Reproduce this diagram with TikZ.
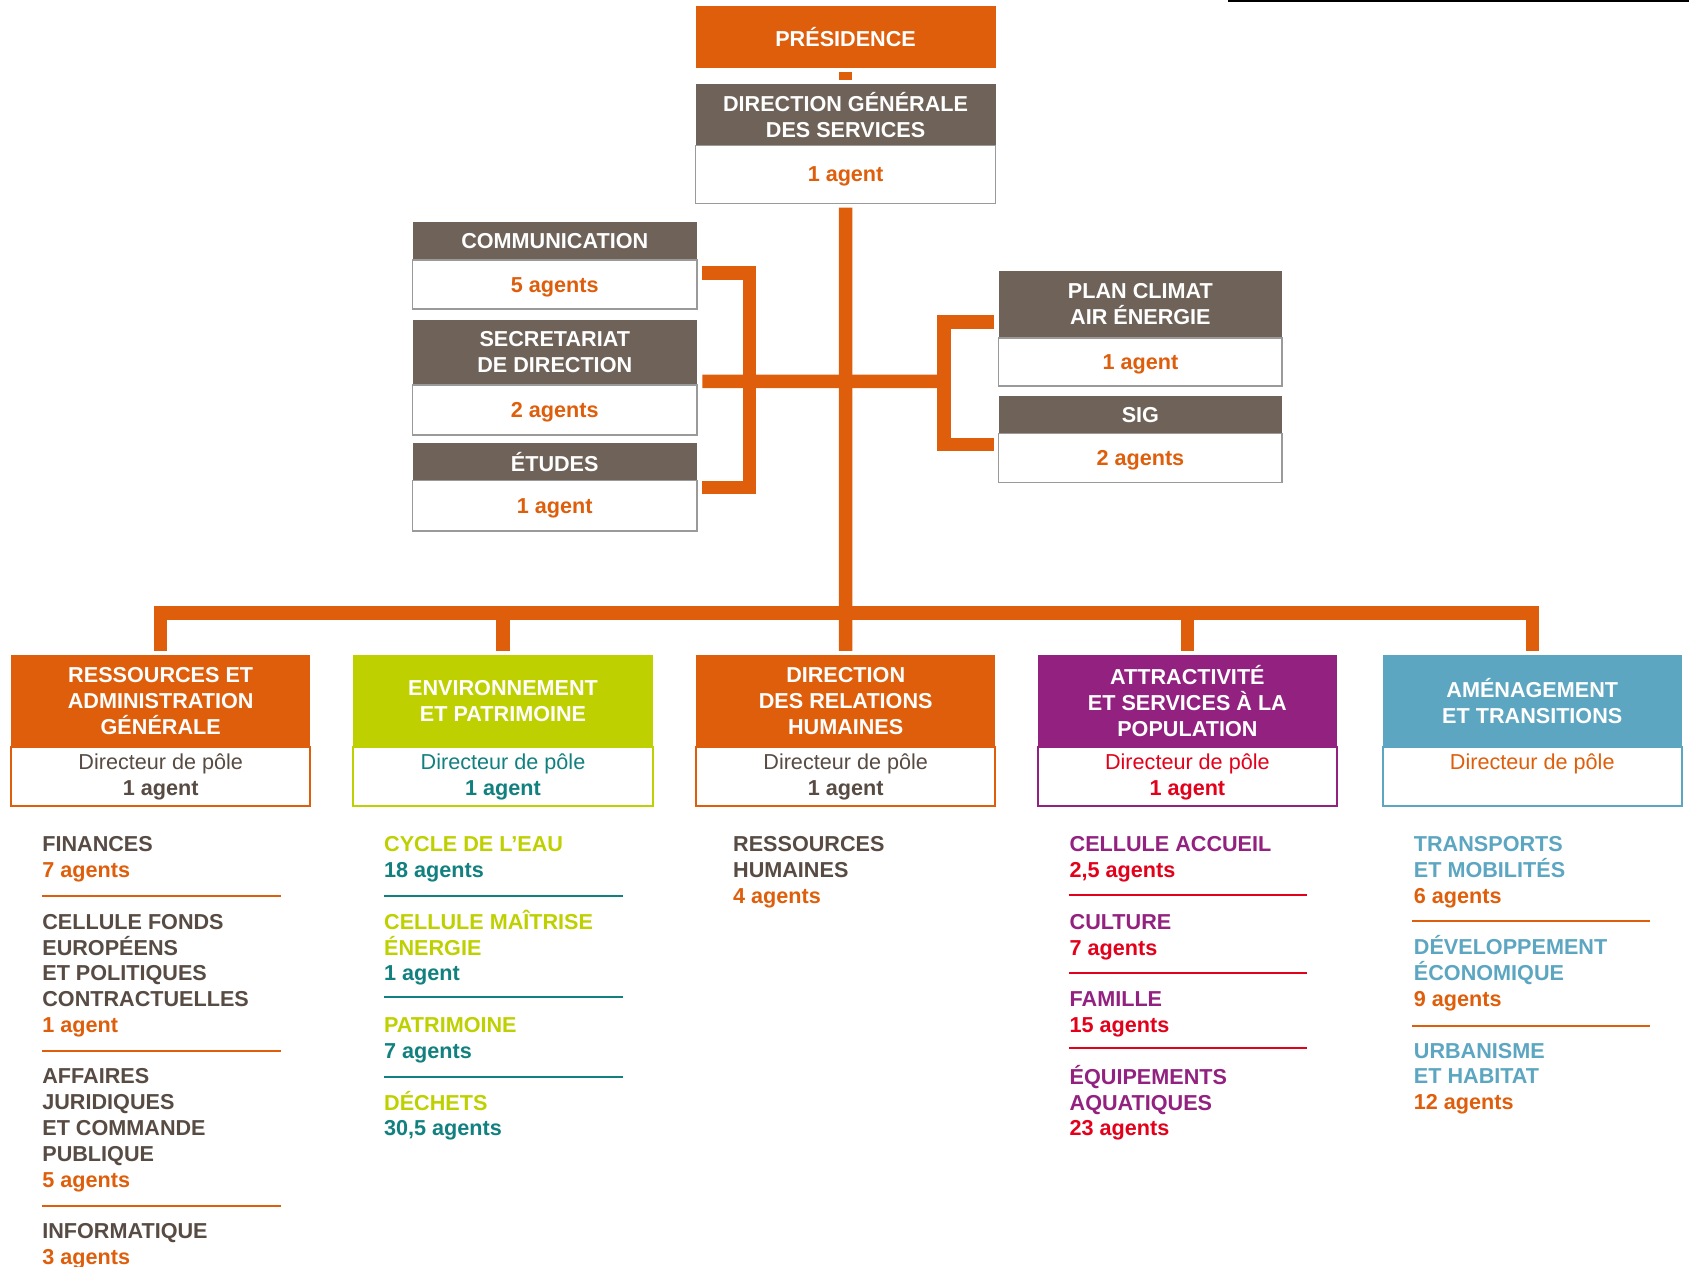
\documentclass[tikz,border=0pt]{standalone}
\usepackage{fontspec}
\setmainfont{Liberation Sans}
\usetikzlibrary{positioning,calc}

\definecolor{corange}{HTML}{DE5E0B}
\definecolor{cbrown}{HTML}{6E6259}
\definecolor{clime}{HTML}{BED000}
\definecolor{cpurple}{HTML}{93217F}
\definecolor{cblue}{HTML}{5CA6C1}
\definecolor{cteal}{HTML}{11807F}
\definecolor{cred}{HTML}{E3001B}
\definecolor{cdark}{HTML}{574B43}
\definecolor{cgrey}{HTML}{9A9A9A}

\newcommand{\chartfont}{\fontsize{12.3}{14.7}\selectfont}

\tikzset{
  link/.style={draw=corange, line width=0.27cm},
  gap/.style={shorten <=0.086cm, shorten >=0.086cm},
  head/.style={fill=cbrown, text=white, font=\chartfont\bfseries, align=center, inner sep=0pt, outer sep=0pt},
  body/.style={draw=cgrey, line width=0.9pt, fill=white, font=\chartfont, align=center, inner sep=0pt, outer sep=0pt},
  count/.style={body, text=corange, text depth=0pt, font=\chartfont\bfseries},
  leftbox/.style={minimum width=5.687cm},
  rightbox/.style={minimum width=5.674cm},
  polehead/.style={head, minimum width=5.989cm, minimum height=1.842cm},
  polebody/.style={body, minimum width=5.989cm, minimum height=1.178cm, line width=1.2pt},
  item/.style={anchor=base west, align=left, inner sep=0pt, font=\chartfont\bfseries},
  rule/.style={line width=1.2pt},
}

\begin{document}
\begin{tikzpicture}[x=0.021543cm, y=-0.021543cm]
\useasboundingbox (0,0) rectangle (1568,1176);

% Frame edge at the top right
\draw[line width=1.5pt] (1140,1) -- (1568,1);

% Top of the chart
\node[head, fill=corange, minimum width=5.998cm, minimum height=1.232cm] (pres) at (785,34.2) {PRÉSIDENCE};
\node[head, minimum width=5.998cm, minimum height=1.232cm] (dgs) at (785,106.6) {DIRECTION GÉNÉRALE\\DES SERVICES};
\node[count, minimum width=5.998cm, minimum height=1.155cm, below=0pt of dgs] (dgsb) {1 agent};

% Services attached to the direction (left)
\node[head, leftbox, minimum height=0.754cm] (com) at (515,223.9) {COMMUNICATION};
\node[count, leftbox, minimum height=0.985cm, below=0pt of com] (comb) {5 agents};
\node[head, leftbox, minimum height=1.299cm] (sec) at (515,327.2) {SECRETARIAT\\DE DIRECTION};
\node[count, leftbox, minimum height=1.000cm, below=0pt of sec] (secb) {2 agents};
\node[head, leftbox, minimum height=0.745cm] (etu) at (515,428.9) {ÉTUDES};
\node[count, leftbox, minimum height=1.008cm, below=0pt of etu] (etub) {1 agent};

% Services attached to the direction (right)
\node[head, rightbox, minimum height=1.334cm] (pca) at (1058.7,282.6) {PLAN CLIMAT\\AIR ÉNERGIE};
\node[count, rightbox, minimum height=0.965cm, below=0pt of pca] (pcab) {1 agent};
\node[head, rightbox, minimum height=0.754cm] (sig) at (1058.7,385.1) {SIG};
\node[count, rightbox, minimum height=0.978cm, below=0pt of sig] (sigb) {2 agents};

% Poles
\node[polehead, fill=corange] (ress) at (149.2,651) {RESSOURCES ET\\ADMINISTRATION\\GÉNÉRALE};
\node[polebody, below=0pt of ress, draw=corange, text=cdark] (ressb) {Directeur de pôle\\\textbf{1 agent}};
\node[polehead, fill=clime] (envi) at (467,651) {ENVIRONNEMENT\\ET PATRIMOINE};
\node[polebody, below=0pt of envi, draw=clime, text=cteal] (envib) {Directeur de pôle\\\textbf{1 agent}};
\node[polehead, fill=corange] (drh) at (785.1,651) {DIRECTION\\DES RELATIONS\\HUMAINES};
\node[polebody, below=0pt of drh, draw=corange, text=cdark] (drhb) {Directeur de pôle\\\textbf{1 agent}};
\node[polehead, fill=cpurple] (attr) at (1102.3,651) {ATTRACTIVITÉ\\ET SERVICES À LA\\POPULATION};
\node[polebody, below=0pt of attr, draw=cpurple, text=cred] (attrb) {Directeur de pôle\\\textbf{1 agent}};
\node[polehead, fill=cblue] (amen) at (1422.5,651) {AMÉNAGEMENT\\ET TRANSITIONS};
\node[polebody, below=0pt of amen, draw=cblue, text=corange] (amenb) {Directeur de pôle\\\phantom{1 agent}};

% Connectors
\draw[link, gap] (pres) -- (dgs);
\draw[link, gap] (dgsb) -- (drh);
\coordinate (bus) at (785,568);
\draw[link, gap] (ress.north) -- ++(0,-39) -| (amen.north);
\draw[link, shorten >=0.086cm] (envi.north |- bus) -- (envi.north);
\draw[link, shorten >=0.086cm] (attr.north |- bus) -- (attr.north);

% Brackets of the attached services
\coordinate (lj) at (695.6,354);
\coordinate (rj) at (876.5,354);
\coordinate (comstub) at ($(comb.east)+(5,-10.7)$);
\coordinate (secstub) at ($(sec.south east)+(5,-3.4)$);
\coordinate (etustub) at ($(etub.north east)+(5,6.3)$);
\coordinate (pcastub) at ($(pca.west)+(-4.2,16.3)$);
\coordinate (sigstub) at ($(sigb.west)+(-4.2,-12.5)$);
\draw[link] (comstub) -| (lj) |- (etustub);
\draw[link] (secstub) -- (rj);
\draw[link] (pcastub) -| (rj) |- (sigstub);

% Pole 1 services
\node[item, text=cdark] (fin) at (39,814.7) {FINANCES\\\textcolor{corange}{7 agents}};
\node[item, text=cdark] (fonds) at (39,958.6) {CELLULE FONDS\\EUROPÉENS\\ET POLITIQUES\\CONTRACTUELLES\\\textcolor{corange}{1 agent}};
\node[item, text=cdark] (jur) at (39,1102) {AFFAIRES\\JURIDIQUES\\ET COMMANDE\\PUBLIQUE\\\textcolor{corange}{5 agents}};
\node[item, text=cdark] (info) at (39,1174) {INFORMATIQUE\\\textcolor{corange}{3 agents}};
\foreach \y in {832,975.5,1119.5}
  \draw[rule, corange] (39,\y) -- (261,\y);

% Pole 2 services
\node[item, text=clime] (eau) at (356.3,814.7) {CYCLE DE L’EAU\\\textcolor{cteal}{18 agents}};
\node[item, text=clime] (ener) at (356.3,910.6) {CELLULE MAÎTRISE\\ÉNERGIE\\\textcolor{cteal}{1 agent}};
\node[item, text=clime] (patr) at (356.3,982.4) {PATRIMOINE\\\textcolor{cteal}{7 agents}};
\node[item, text=clime] (dech) at (356.3,1054.5) {DÉCHETS\\\textcolor{cteal}{30,5 agents}};
\foreach \y in {832,925.5,999.5}
  \draw[rule, cteal] (356.3,\y) -- (578.5,\y);

% Pole 3 services
\node[item, text=cdark] (rh) at (680.3,838.7) {RESSOURCES\\HUMAINES\\\textcolor{corange}{4 agents}};

% Pole 4 services
\node[item, text=cpurple] (accu) at (992.7,814.7) {CELLULE ACCUEIL\\\textcolor{cred}{2,5 agents}};
\node[item, text=cpurple] (cult) at (992.7,886.7) {CULTURE\\\textcolor{cred}{7 agents}};
\node[item, text=cpurple] (fam) at (992.7,958.5) {FAMILLE\\\textcolor{cred}{15 agents}};
\node[item, text=cpurple] (aqua) at (992.7,1054.6) {ÉQUIPEMENTS\\AQUATIQUES\\\textcolor{cred}{23 agents}};
\foreach \y in {830.9,903.6,973.2}
  \draw[rule, cred] (992.7,\y) -- (1213.7,\y);

% Pole 5 services
\node[item, text=cblue] (trans) at (1312.3,838.7) {TRANSPORTS\\ET MOBILITÉS\\\textcolor{corange}{6 agents}};
\node[item, text=cblue] (eco) at (1312.3,934.5) {DÉVELOPPEMENT\\ÉCONOMIQUE\\\textcolor{corange}{9 agents}};
\node[item, text=cblue] (urba) at (1312.3,1030.3) {URBANISME\\ET HABITAT\\\textcolor{corange}{12 agents}};
\foreach \y in {854.7,952.2}
  \draw[rule, corange] (1311,\y) -- (1532,\y);

\end{tikzpicture}
\end{document}
